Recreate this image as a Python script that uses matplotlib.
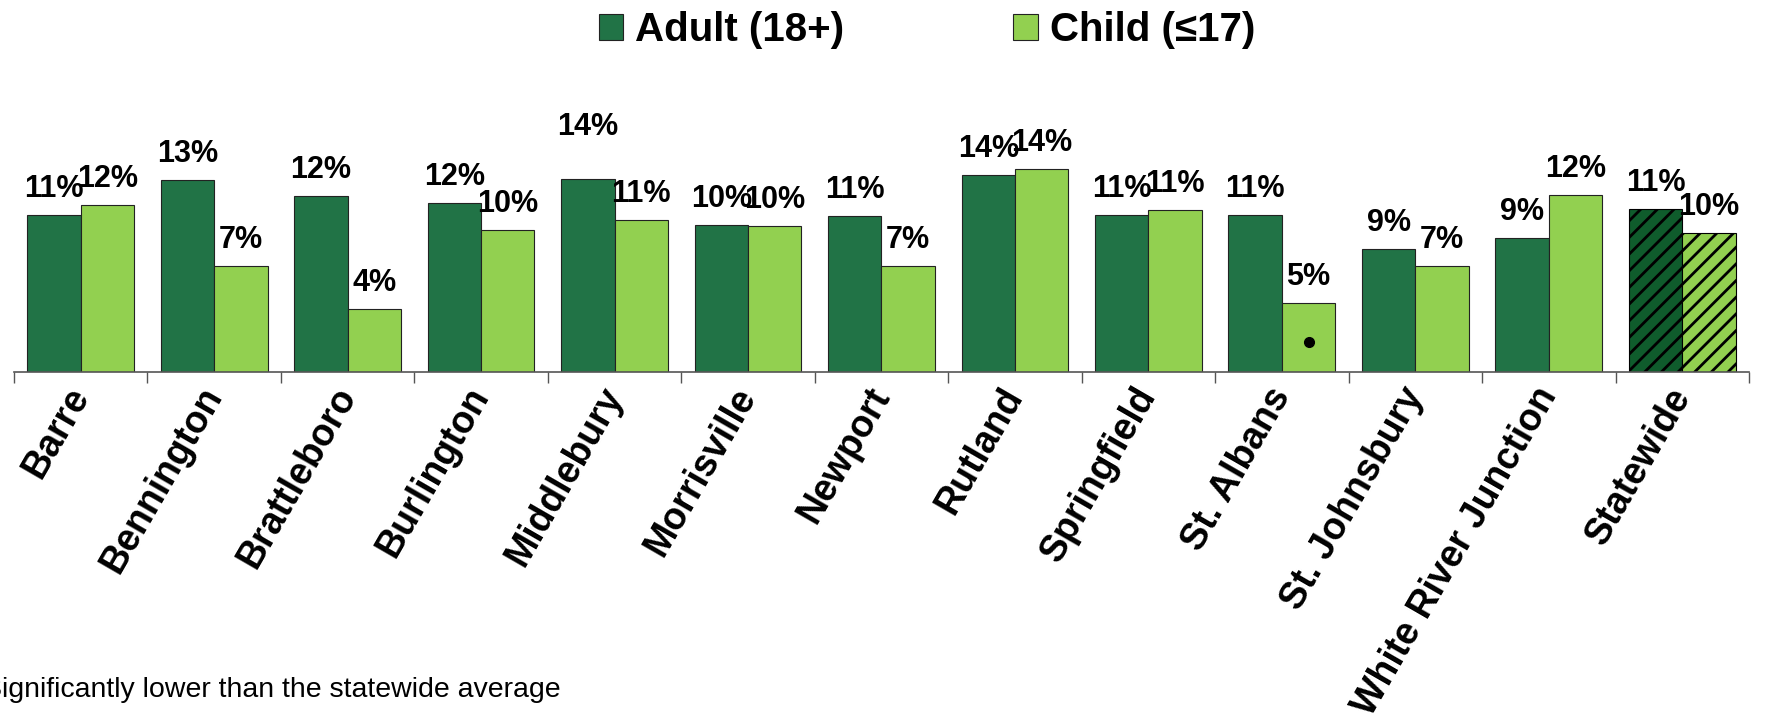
import numpy as np
import matplotlib
matplotlib.use("Agg")
import matplotlib.pyplot as plt

# --- DATA ---
sites = ["Barre", "Bennington", "Brattleboro", "Burlington", "Middlebury",
         "Morrisville", "Newport", "Rutland", "Springfield", "St. Albans",
         "St. Johnsbury", "White River Junction", "Statewide"]
adult = [11.0, 13.4, 12.3, 11.8, 13.5, 10.3, 10.9, 13.8, 11.0, 11.0, 8.6, 9.4, 11.4]
child = [11.7, 7.4, 4.4, 9.9, 10.6, 10.2, 7.4, 14.2, 11.3, 4.8, 7.4, 12.4, 9.7]
child_lower = [False, False, False, False, False, False, False, False, False, True,
               False, False, False]
series_names = ["Adult (18+)", "Child (\u226417)"]
footnote = "Significantly lower than the statewide average"

# --- STYLE ---
plt.rcParams['font.family'] = ['Liberation Sans', 'DejaVu Sans']
plt.rcParams['hatch.linewidth'] = 2.0
ADULT_C = '#217346'
CHILD_C = '#92D050'
ADULT_STATE_C = '#0F5C2C'

fig = plt.figure(figsize=(17.69, 7.15), dpi=100)
ax = fig.add_axes([0.0079, 0.4797, 0.9808, 0.40])

x = np.arange(len(sites))
w = 0.4
n = len(sites)

a_colors = [ADULT_C] * (n - 1) + [ADULT_STATE_C]
hatches = [None] * (n - 1) + ['//']

bars_a = ax.bar(x - w / 2, adult, w, color=a_colors, edgecolor='#222222', linewidth=0.8,
                label=series_names[0])
bars_c = ax.bar(x + w / 2, child, w, color=CHILD_C, edgecolor='#222222', linewidth=0.8,
                label=series_names[1])
for bars in (bars_a, bars_c):
    for b, h in zip(bars, hatches):
        if h:
            b.set_hatch(h)
            b.set_edgecolor('black')

# data labels
extra_a = {4: 19}  # Middlebury label sits higher
for i, b in enumerate(bars_a):
    ax.annotate(f"{round(adult[i])}%", (b.get_x() + b.get_width() / 2, b.get_height()),
                xytext=(0, 13 + extra_a.get(i, 0)), textcoords='offset points',
                ha='center', va='baseline', fontsize=22, fontweight='bold')
for i, b in enumerate(bars_c):
    ax.annotate(f"{round(child[i])}%", (b.get_x() + b.get_width() / 2, b.get_height()),
                xytext=(0, 13), textcoords='offset points',
                ha='center', va='baseline', fontsize=22, fontweight='bold')

# significance dots
for i, flag in enumerate(child_lower):
    if flag:
        ax.plot(x[i] + w / 2, 2.1, 'o', color='black', ms=7)

ax.set_xlim(-0.5, n - 0.5)
ax.set_ylim(0, 20)
for s in ['top', 'right', 'left']:
    ax.spines[s].set_visible(False)
ax.spines['bottom'].set_color('#555555')
ax.spines['bottom'].set_linewidth(1.2)
ax.yaxis.set_visible(False)

ax.set_xticks(x)
ax.tick_params(axis='x', which='major', length=0, pad=13)
ax.set_xticks(np.arange(-0.5, n, 1.0), minor=True)
ax.tick_params(axis='x', which='minor', length=8, color='#555555', width=1)
ax.set_xticklabels(sites, rotation=60, ha='right', va='center', rotation_mode='anchor',
                   fontsize=27, fontweight='bold')

fig.legend(handles=[bars_a[0], bars_c[0]], labels=series_names, loc='upper center',
           bbox_to_anchor=(0.524, 1.035), ncol=2, frameon=False,
           prop={'size': 29, 'weight': 'bold'}, handlelength=0.6, handleheight=0.6,
           handletextpad=0.3, columnspacing=4.2)

fig.text(-0.0095, 0.035, footnote, fontsize=20.5, ha='left', va='center')

fig.savefig("out.png", dpi=100)
